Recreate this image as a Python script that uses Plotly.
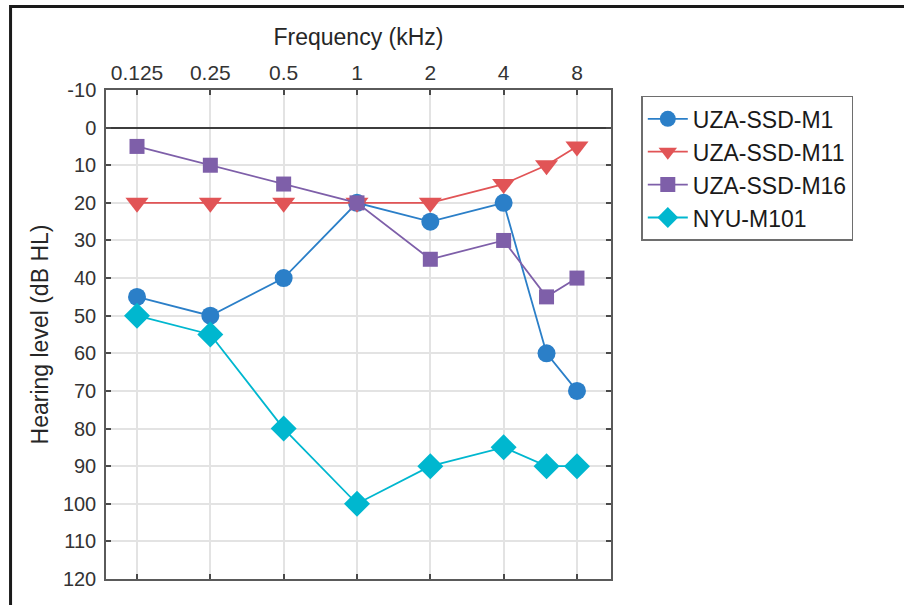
import plotly.graph_objects as go

freqs = [0.125, 0.25, 0.5, 1, 2, 4, 6, 8]
tick_vals = [0.125, 0.25, 0.5, 1, 2, 4, 8]
tick_text = ["0.125", "0.25", "0.5", "1", "2", "4", "8"]
y_ticks = list(range(-10, 121, 10))
y_tick_text = [str(v) for v in y_ticks]

m1 = [45, 50, 40, 20, 25, 20, 60, 70]
m11 = [20, 20, 20, 20, 20, 15, 10, 5]
m16 = [5, 10, 15, 20, 35, 30, 45, 40]
nyu = [50, 55, 80, 100, 90, 85, 90, 90]

series = [
    ("UZA-SSD-M1", m1, "#2B7FC8", "circle", 18),
    ("UZA-SSD-M11", m11, "#E15456", "triangle-down", 20),
    ("UZA-SSD-M16", m16, "#7E5FA9", "square", 15),
    ("NYU-M101", nyu, "#00B7CF", "diamond", 20),
]

fig = go.Figure()
for name, vals, col, sym, sz in series:
    fig.add_trace(go.Scatter(
        x=freqs, y=vals, name=name, mode="lines+markers",
        line=dict(color=col, width=1.8),
        marker=dict(symbol=sym, size=sz, color=col, line=dict(width=0)),
    ))

font = "Liberation Sans, Arial, sans-serif"
fig.update_layout(
    width=904, height=605,
    margin=dict(l=106, r=293, t=90, b=26),
    paper_bgcolor="white", plot_bgcolor="white",
    font=dict(family=font, size=20, color="#262626"),
    showlegend=True,
    legend=dict(
        x=1.06, y=0.988, xanchor="left", yanchor="top",
        bordercolor="#6e6e6e", borderwidth=1.5,
        font=dict(size=23, color="#1a1a1a"),
        bgcolor="white", tracegroupgap=0,
        itemwidth=40,
    ),
    xaxis=dict(
        type="log", side="top",
        range=[-1.0304, 1.0428],
        tickvals=tick_vals, ticktext=tick_text,
        showgrid=True, gridcolor="#e3e3e3", gridwidth=1.5,
        showline=True, linecolor="#5a5a5a", linewidth=1.5, mirror="ticks",
        ticks="inside", ticklen=5, tickcolor="#4a4a4a", tickwidth=1.5,
        tickfont=dict(size=21, color="#333333"),
        title=dict(text="Frequency (kHz)", font=dict(size=23, color="#262626"), standoff=9),
        zeroline=False,
    ),
    yaxis=dict(
        range=[120, -10],
        tickvals=y_ticks, ticktext=y_tick_text,
        showgrid=True, gridcolor="#e3e3e3", gridwidth=1.5,
        showline=True, linecolor="#5a5a5a", linewidth=1.5, mirror="ticks",
        ticks="inside", ticklen=5, tickcolor="#4a4a4a", tickwidth=1.5,
        tickfont=dict(size=20, color="#333333"),
        ticklabelstandoff=4,
        title=dict(text="Hearing level (dB HL)", font=dict(size=23, color="#262626"), standoff=8),
        zeroline=True, zerolinecolor="#3c3c3c", zerolinewidth=2.2,
    ),
)

# outer figure frame (black border at left and top)
fig.add_shape(type="rect", xref="paper", yref="paper",
              x0=-0.189, x1=1.8, y0=-0.2, y1=1.171,
              line=dict(color="#1a1a1a", width=3), layer="above")

fig.write_html("out.html")
